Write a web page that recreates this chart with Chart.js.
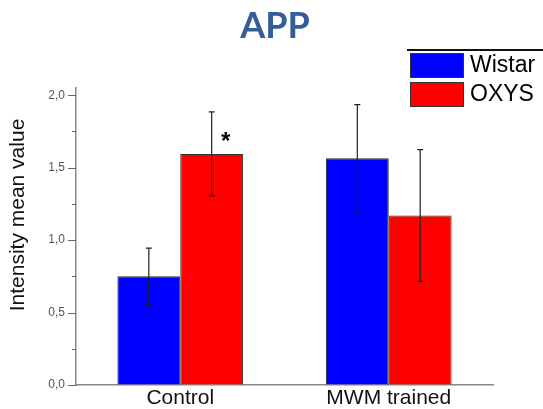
<!DOCTYPE html>
<html>
<head>
<meta charset="utf-8">
<script src="https://cdn.jsdelivr.net/npm/chart.js@4"></script>
<style>
  body { margin: 0; background: #fff; }
  #wrap { width: 543px; height: 409px; }
</style>
</head>
<body>
<div id="wrap"><canvas id="chart" width="543" height="409"></canvas></div>
<script>
const categories = ["Control", "MWM trained"];
const wistarValues = [0.75, 1.565];
const oxysValues = [1.595, 1.17];
const wistarErrors = [0.195, 0.37];
const oxysErrors = [0.29, 0.455];
const oxysMarks = ["*", ""];
const yTicks = [0, 0.25, 0.5, 0.75, 1.0, 1.25, 1.5, 1.75, 2.0];

const ctx = document.getElementById("chart").getContext("2d");

// error bars, asterisk, tick marks, titles and legend
const extras = {
    id: "extras",
    afterDatasetsDraw(chart) {
        const c = chart.ctx;
        const y = chart.scales.y;
        const errs = [wistarErrors, oxysErrors];
        c.save();
        chart.data.datasets.forEach((ds, i) => {
            const meta = chart.getDatasetMeta(i);
            meta.data.forEach((bar, j) => {
                const v = ds.data[j];
                const top = y.getPixelForValue(v + errs[i][j]);
                const bot = y.getPixelForValue(v - errs[i][j]);
                c.strokeStyle = "#222";
                c.lineWidth = 1.2;
                c.beginPath();
                c.moveTo(bar.x, top); c.lineTo(bar.x, bot);
                c.moveTo(bar.x - 3, top); c.lineTo(bar.x + 3, top);
                c.moveTo(bar.x - 3, bot); c.lineTo(bar.x + 3, bot);
                c.stroke();
            });
        });
        // significance mark
        const om = chart.getDatasetMeta(1);
        om.data.forEach((bar, j) => {
            if (!oxysMarks[j]) return;
            c.fillStyle = "#000";
            c.font = "bold 24px Arial";
            c.textAlign = "center";
            c.textBaseline = "middle";
            c.fillText(oxysMarks[j], bar.x + 14, y.getPixelForValue(oxysValues[j]) - 12);
        });
        c.restore();
    },
    afterDraw(chart) {
        const c = chart.ctx;
        const y = chart.scales.y;
        const ax = chart.chartArea.left;
        c.save();
        // y tick marks
        c.strokeStyle = "#666";
        c.lineWidth = 1;
        yTicks.forEach(t => {
            const py = Math.round(y.getPixelForValue(t)) + 0.5;
            const len = (t * 2) % 1 === 0 ? 8 : 4;
            c.beginPath();
            c.moveTo(ax - len, py); c.lineTo(ax, py);
            c.stroke();
        });
        // y axis title
        c.save();
        c.translate(18, 215);
        c.rotate(-Math.PI / 2);
        c.fillStyle = "#111";
        c.font = "21px Arial";
        c.textAlign = "center";
        c.textBaseline = "middle";
        c.fillText("Intensity mean value", 0, 0);
        c.restore();
        // title
        c.fillStyle = "#335f96";
        c.font = "bold 36px Lato";
        c.textAlign = "center";
        c.textBaseline = "middle";
        c.fillText("APP", 275, 26);
        // legend
        c.strokeStyle = "#111";
        c.lineWidth = 2;
        c.beginPath();
        c.moveTo(407, 50); c.lineTo(543, 50);
        c.stroke();
        chart.data.datasets.forEach((ds, i) => {
            const top = 53 + i * 29;
            c.fillStyle = ds.backgroundColor;
            c.fillRect(410, top, 54, 25);
            c.strokeStyle = "#333";
            c.lineWidth = 1;
            c.strokeRect(410.5, top + 0.5, 53, 24);
            c.fillStyle = "#000";
            c.font = "23px Arial";
            c.textAlign = "left";
            c.textBaseline = "middle";
            c.fillText(ds.label, 470, top + 13);
        });
        c.restore();
    }
};

new Chart(ctx, {
    type: "bar",
    data: {
        labels: categories,
        datasets: [{
            label: "Wistar",
            data: wistarValues,
            backgroundColor: "#0000ff",
            borderColor: "#333",
            borderWidth: 1
        }, {
            label: "OXYS",
            data: oxysValues,
            backgroundColor: "#ff0000",
            borderColor: "#333",
            borderWidth: 1
        }]
    },
    options: {
        responsive: false,
        animation: false,
        layout: { padding: { top: 88, right: 50, left: 0, bottom: 0 } },
        datasets: { bar: { barPercentage: 1, categoryPercentage: 0.603 } },
        plugins: {
            legend: { display: false },
            title: { display: false },
            tooltip: { enabled: false }
        },
        scales: {
            x: {
                afterFit: s => { s.height = 24; },
                grid: { display: true, drawOnChartArea: false, drawTicks: false },
                border: { display: true, color: "#888", width: 1.5 },
                ticks: { color: "#111", font: { family: "Arial", size: 21 }, padding: 1 }
            },
            y: {
                min: 0,
                max: 2.05,
                afterFit: s => { s.width = 76; },
                afterBuildTicks: s => { s.ticks = yTicks.map(v => ({ value: v })); },
                grid: { display: true, drawOnChartArea: false, drawTicks: false },
                border: { display: true, color: "#888", width: 1.5 },
                ticks: {
                    padding: 11,
                    color: "#555",
                    font: { family: "Arial", size: 12 },
                    callback: v => ((v * 2) % 1 === 0 ? v.toFixed(1).replace(".", ",") : "")
                }
            }
        }
    },
    plugins: [extras]
});
</script>
</body>
</html>
